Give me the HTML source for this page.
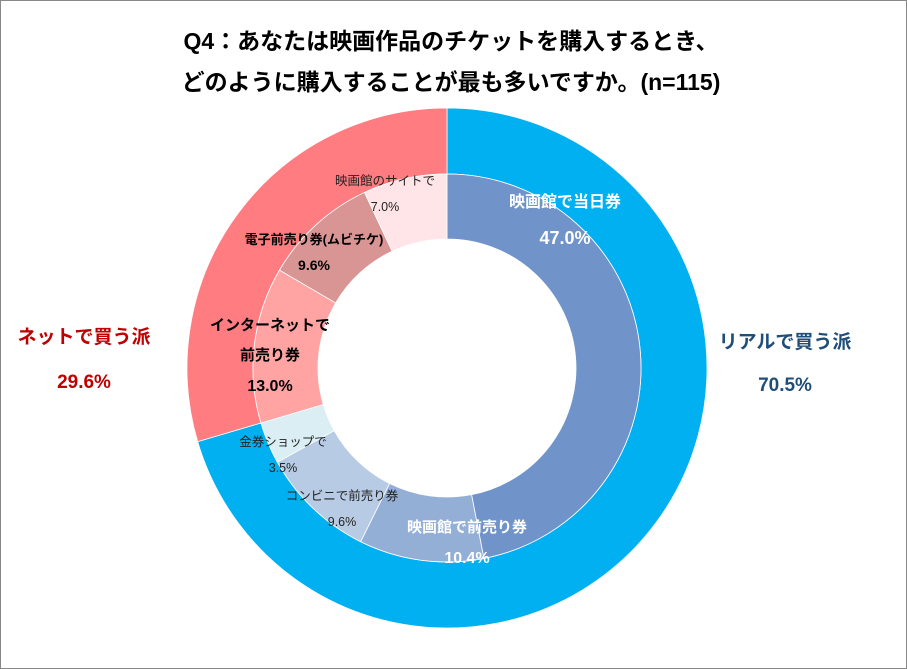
<!DOCTYPE html>
<html><head><meta charset="utf-8"><style>
body{margin:0;background:#fff;}
svg{display:block;font-family:"Liberation Sans","Noto Sans CJK JP",sans-serif;}
</style></head><body>
<svg id="c" width="907" height="669" viewBox="0 0 907 669">
<rect x="0.5" y="0.5" width="906" height="668" fill="#fff" stroke="#888"/>
<text x="451" y="49" text-anchor="middle" font-size="23" font-weight="bold" fill="#000">Q4：あなたは映画作品のチケットを購入するとき、</text>
<text x="451" y="90" text-anchor="middle" font-size="23" font-weight="bold" fill="#000">どのように購入することが最も多いですか。(n=115)</text>
<g id="outer"></g><g id="inner"></g><g id="labels"></g>
</svg>
<script>
const outerCats=["リアルで買う派","ネットで買う派"];
const outerVals=[70.5,29.6];
const innerCats=["映画館で当日券","映画館で前売り券","コンビニで前売り券","金券ショップで","インターネットで前売り券","電子前売り券(ムビチケ)","映画館のサイトで"];
const innerVals=[47.0,10.4,9.6,3.5,13.0,9.6,7.0];
const outerColors=["#00B0F0","#FF7C80"];
const innerColors=["#7094CA","#94AFD6","#B8CBE4","#DAEEF3","#FFA3A3","#D99594","#FFE5E8"];
const cx=447,cy=368;
const NS="http://www.w3.org/2000/svg";
function pt(r,a){return [cx+r*Math.sin(a),cy-r*Math.cos(a)];}
function arc(r0,r1,a0,a1){
 const l=(a1-a0)>Math.PI?1:0;
 const [x0,y0]=pt(r1,a0),[x1,y1]=pt(r1,a1),[x2,y2]=pt(r0,a1),[x3,y3]=pt(r0,a0);
 return `M${x0},${y0}A${r1},${r1} 0 ${l} 1 ${x1},${y1}L${x2},${y2}A${r0},${r0} 0 ${l} 0 ${x3},${y3}Z`;
}
function ring(vals,colors,r0,r1,g,names){
 const tot=vals.reduce((a,b)=>a+b,0);let a=0;
 vals.forEach((v,i)=>{
  const a1=a+v/tot*2*Math.PI;
  const p=document.createElementNS(NS,"path");
  p.setAttribute("d",arc(r0,r1,a,a1));
  p.setAttribute("fill",colors[i]);
  p.setAttribute("stroke","#fff");p.setAttribute("stroke-width","0.8");
  
  
  document.getElementById(g).appendChild(p);a=a1;
 });
}
ring(outerVals,outerColors,194,260,"outer",["outer-slice-real","outer-slice-net"]);
ring(innerVals,innerColors,129,194,"inner",["inner-slice-theater-sameday","inner-slice-theater-advance","inner-slice-konbini","inner-slice-ticket-shop","inner-slice-internet","inner-slice-mubichike","inner-slice-theater-site"]);
const labels=[
 [565,207,"映画館で当日券",16,"bold","#fff","label-theater-sameday"],
 [565,244,innerVals[0].toFixed(1)+"%",18,"bold","#fff","value-theater-sameday"],
 [467,532,"映画館で前売り券",15,"bold","#fff","label-theater-advance"],
 [467,563,innerVals[1].toFixed(1)+"%",16,"bold","#fff","value-theater-advance"],
 [342,500,"コンビニで前売り券",12.5,"normal","#222","label-konbini"],
 [342,526,innerVals[2].toFixed(1)+"%",12.5,"normal","#222","value-konbini"],
 [283,446,"金券ショップで",12.5,"normal","#222","label-ticket-shop"],
 [283,472,innerVals[3].toFixed(1)+"%",12.5,"normal","#222","value-ticket-shop"],
 [270,330,"インターネットで",15,"bold","#000","label-internet"],
 [270,360,"前売り券",15,"bold","#000","label-internet-2"],
 [270,391,innerVals[4].toFixed(1)+"%",16,"bold","#000","value-internet"],
 [314,244,"電子前売り券(ムビチケ)",13,"bold","#000","label-mubichike"],
 [314,270,innerVals[5].toFixed(1)+"%",14,"bold","#000","value-mubichike"],
 [385,185,"映画館のサイトで",12.5,"normal","#222","label-theater-site"],
 [385,211,innerVals[6].toFixed(1)+"%",12.5,"normal","#222","value-theater-site"],
 [785,348,outerCats[0],19,"bold","#1F4E79","label-real"],
 [785,391,outerVals[0].toFixed(1)+"%",19,"bold","#1F4E79","value-real"],
 [84,343,outerCats[1],19,"bold","#C00000","label-net"],
 [84,388,outerVals[1].toFixed(1)+"%",19,"bold","#C00000","value-net"]
];
labels.forEach(l=>{
 const t=document.createElementNS(NS,"text");
 t.setAttribute("x",l[0]);t.setAttribute("y",l[1]);t.setAttribute("text-anchor","middle");
 t.setAttribute("font-size",l[3]);t.setAttribute("font-weight",l[4]);t.setAttribute("fill",l[5]);
 t.textContent=l[2];
 
 
 document.getElementById("labels").appendChild(t);
});
</script>
</body></html>
